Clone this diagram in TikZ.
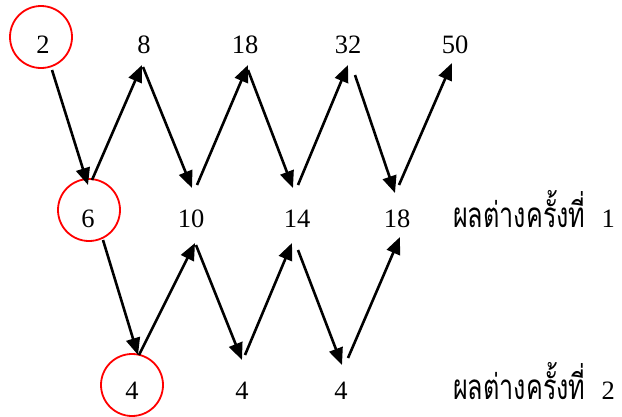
\documentclass[tikz,border=0pt]{standalone}
\usepackage{fontspec}
\setmainfont{Liberation Serif}
\newfontfamily\thaifont[Script=Thai,FakeStretch=0.72]{Loma}
\usetikzlibrary{arrows.meta,calc}
\tikzset{
  num/.style={inner sep=0pt,font=\fontsize{26.5}{30}\selectfont,anchor=base},
  ring/.style={draw=red,line width=1.8pt,circle,minimum size=62pt,inner sep=0pt},
  arr/.style={line width=2.6pt,-{Triangle[length=17pt,width=14pt]}},
  lbl/.style={inner sep=0pt,anchor=base west,font=\fontsize{26.5}{30}\selectfont}
}
\begin{document}
\begin{tikzpicture}[x=1pt,y=-1pt]
\useasboundingbox (0,0) rectangle (622,416);
% row 1
\node[num] (a1) at (43,53) {2};
\node[num] (a2) at (144,53) {8};
\node[num] (a3) at (245,53) {18};
\node[num] (a4) at (348,53) {32};
\node[num] (a5) at (455,53) {50};
% row 2
\node[num] (b1) at (88,227) {6};
\node[num] (b2) at (191,227) {10};
\node[num] (b3) at (297,227) {14};
\node[num] (b4) at (397,227) {18};
% row 3
\node[num] (c1) at (132,399) {4};
\node[num] (c2) at (242,399) {4};
\node[num] (c3) at (341,399) {4};
% labels
\node[lbl] (l1) at (453,227) {{\thaifont\fontsize{35}{36}\selectfont ผลต่างครั้งที่}\hspace{16pt}1};
\node[lbl] (l2) at (453,399) {{\thaifont\fontsize{35}{36}\selectfont ผลต่างครั้งที่}\hspace{16pt}2};
% rings
\node[ring] (r1) at (41,37) {};
\node[ring] (r2) at (89,210) {};
\node[ring] (r3) at (132,385) {};
% arrows row 1 <-> row 2
\draw[arr] ($(a1.base)+(9,17)$) -- ($(b1.base)+(0,-42)$);
\draw[arr] ($(b1.base)+(4,-47)$) -- ($(a2.base)+(-2,12)$);
\draw[arr] ($(a2.base)+(-1,14)$) -- ($(b2.base)+(1,-39)$);
\draw[arr] ($(b2.base)+(6,-42)$) -- ($(a3.base)+(3,12)$);
\draw[arr] ($(a3.base)+(3,17)$) -- ($(b3.base)+(-4,-39)$);
\draw[arr] ($(b3.base)+(1,-42)$) -- ($(a4.base)+(0,12)$);
\draw[arr] ($(a4.base)+(7,22)$) -- ($(b4.base)+(-2,-34)$);
\draw[arr] ($(b4.base)+(2,-42)$) -- ($(a5.base)+(-3,10)$);
% arrows row 2 <-> row 3
\draw[arr] ($(b1.base)+(15,13)$) -- ($(c1.base)+(6,-44)$);
\draw[arr] ($(c1.base)+(7,-44)$) -- ($(b2.base)+(4,16)$);
\draw[arr] ($(b2.base)+(5,18)$) -- ($(c2.base)+(0,-39)$);
\draw[arr] ($(c2.base)+(3,-44)$) -- ($(b3.base)+(-5,16)$);
\draw[arr] ($(b3.base)+(1,23)$) -- ($(c3.base)+(1,-34)$);
\draw[arr] ($(c3.base)+(7,-41)$) -- ($(b4.base)+(3,10)$);
\end{tikzpicture}
\end{document}
